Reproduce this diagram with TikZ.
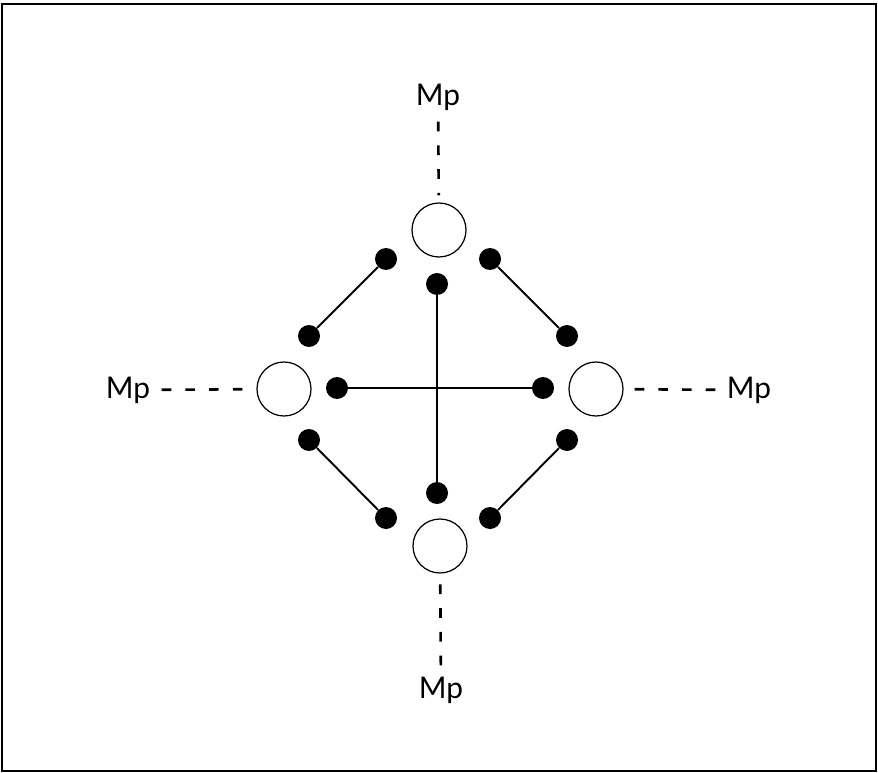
\documentclass[tikz,border=0pt]{standalone}
\usepackage{fontspec}
\setmainfont{Lato}
\usetikzlibrary{positioning}

\begin{document}
\begin{tikzpicture}[x=0.02cm,y=-0.02cm,
    every node/.style={font=\fontsize{17}{19}\selectfont},
    site/.style={draw,circle,line width=0.7pt,minimum size=1.08cm,inner sep=0pt},
    dot/.style={circle,fill=black,minimum size=0.44cm,inner sep=0pt},
    bond/.style={line width=1.1pt},
    link/.style={line width=1.5pt,dash pattern=on 5.5pt off 8pt,shorten <=3pt,shorten >=4pt}]
    \useasboundingbox (0,0) rectangle (878,773);
    \draw[line width=1.4pt] (2,4) rectangle (876,771);
    % metal sites
    \node[site] (top) at (439,230) {};
    \node[site] (bottom) at (440,546) {};
    \node[site] (left) at (284,389) {};
    \node[site] (right) at (596,389) {};
    % labels
    \node (mpT) at (438,97) {Mp};
    \node (mpB) at (441,690) {Mp};
    \node (mpL) at (128,390) {Mp};
    \node (mpR) at (749,390) {Mp};
    \draw[link] (mpT) -- (top); \draw[link] (mpB) -- (bottom);
    \draw[link] (mpL) -- (left); \draw[link] (mpR) -- (right);
    % ligand ends
    \node[dot] (a1) at (386,259) {}; \node[dot] (a2) at (309,336) {};
    \node[dot] (b1) at (490,259) {}; \node[dot] (b2) at (567,336) {};
    \node[dot] (c1) at (309,440) {}; \node[dot] (c2) at (386,518) {};
    \node[dot] (d1) at (567,440) {}; \node[dot] (d2) at (490,518) {};
    \node[dot] (v1) at (437,284) {}; \node[dot] (v2) at (437,493) {};
    \node[dot] (h1) at (337,388) {}; \node[dot] (h2) at (543,388) {};
    \draw[bond] (a1)--(a2); \draw[bond] (b1)--(b2); \draw[bond] (c1)--(c2);
    \draw[bond] (d1)--(d2); \draw[bond] (v1)--(v2); \draw[bond] (h1)--(h2);
\end{tikzpicture}
\end{document}
